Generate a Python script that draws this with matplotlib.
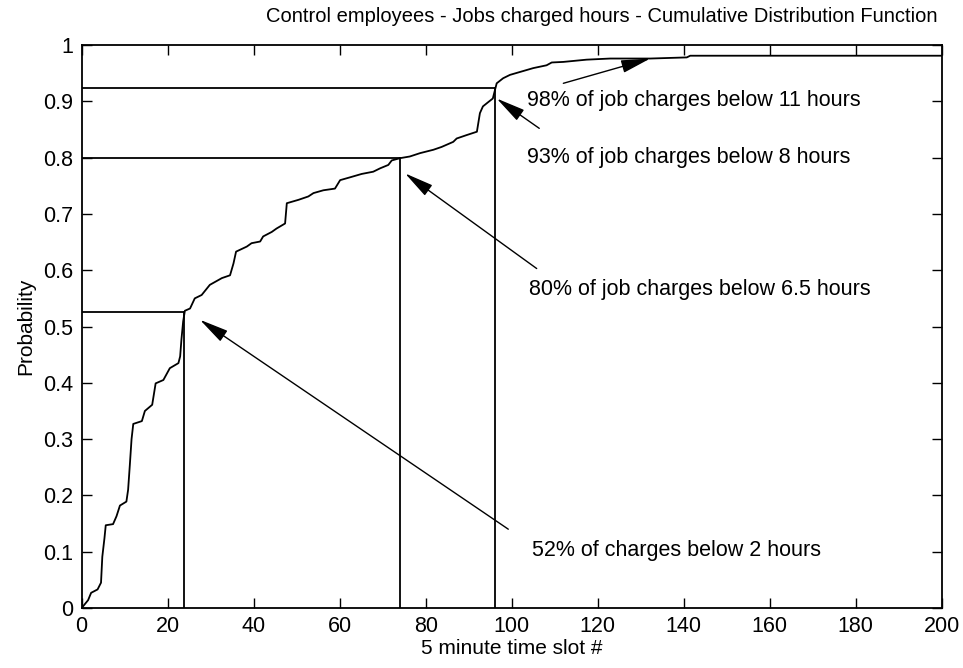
import matplotlib
matplotlib.use("Agg")
import matplotlib.pyplot as plt
from matplotlib.ticker import FormatStrFormatter

plt.rcParams['font.family'] = ['Liberation Sans', 'DejaVu Sans']
plt.rcParams['font.size'] = 15

# CDF curve (5 minute slot #, probability)
slot = [0, 1.5, 2.2, 3.7, 4.5, 4.8, 5.3, 5.6, 7.3, 8.1, 8.9, 10.4, 10.8, 11.2,
        11.6, 12, 14, 14.7, 16.4, 17.2, 19, 20.5, 22.5, 22.9, 23.2, 23.6, 24,
        25.2, 26.3, 27.9, 29.8, 32.6, 34.5, 35.3, 35.9, 38.4, 39.5, 41.5, 42.2,
        44.2, 45.3, 47.3, 47.7, 50.4, 52.7, 53.9, 56.2, 58.9, 60.1, 62.4, 65.1,
        67.8, 69.4, 71.3, 72.1, 74, 76.3, 78.7, 81.8, 83.7, 86.4, 87.2, 89.5,
        91.9, 92.6, 93.3, 94.6, 95.6, 96, 96.5, 98, 99.6, 102.3, 105, 108.1,
        109.3, 112, 117.4, 122.9, 132.2, 140.7, 141.5, 200]
prob = [0, 0.014, 0.027, 0.033, 0.045, 0.091, 0.124, 0.147, 0.149, 0.163,
        0.182, 0.189, 0.21, 0.254, 0.3, 0.327, 0.332, 0.35, 0.361, 0.399, 0.405,
        0.426, 0.435, 0.447, 0.477, 0.509, 0.528, 0.532, 0.55, 0.556, 0.574,
        0.586, 0.591, 0.612, 0.633, 0.642, 0.648, 0.651, 0.66, 0.668, 0.674,
        0.683, 0.719, 0.725, 0.731, 0.737, 0.742, 0.745, 0.76, 0.765, 0.771,
        0.775, 0.781, 0.787, 0.795, 0.799, 0.802, 0.808, 0.814, 0.819, 0.828,
        0.834, 0.84, 0.846, 0.879, 0.891, 0.899, 0.905, 0.917, 0.932, 0.941,
        0.947, 0.953, 0.959, 0.964, 0.969, 0.97, 0.974, 0.976, 0.976, 0.978,
        0.981, 0.981]

# marker lines (slot, probability)
mark_slot = [23.8, 74, 96]
mark_prob = [0.525, 0.8, 0.923]

# annotations
note_text = ["98% of job charges below 11 hours",
             "93% of job charges below 8 hours",
             "80% of job charges below 6.5 hours",
             "52% of charges below 2 hours"]
note_x = [103.5, 103.5, 103.9, 104.7]
note_y = [0.902, 0.801, 0.565, 0.103]
arrow_from = [(112, 0.932), (106.4, 0.852), (105.8, 0.603), (99.2, 0.14)]
arrow_to = [(132.2, 0.976), (96.5, 0.905), (75.2, 0.772), (27.5, 0.512)]

fig = plt.figure(figsize=(9.63, 6.68), dpi=100)
ax = fig.add_axes([0.0848, 0.0898, 0.978 - 0.0848, 0.9326 - 0.0898])

ax.plot(slot, prob, color='k', lw=1.3)
for xs, ps in zip(mark_slot, mark_prob):
    ax.plot([0, xs], [ps, ps], color='k', lw=1.3)
    ax.plot([xs, xs], [0, ps], color='k', lw=1.3)

for t, tx, ty in zip(note_text, note_x, note_y):
    ax.text(tx, ty, t, ha='left', va='center', fontsize=15.5)
for a, b in zip(arrow_from, arrow_to):
    ax.annotate('', xy=b, xytext=a,
                arrowprops=dict(arrowstyle='-|>,head_length=1.0,head_width=0.22',
                                color='k', lw=1.0, shrinkA=0, shrinkB=0,
                                mutation_scale=18))

ax.set_xlim(0, 200)
ax.set_ylim(0, 1)
ax.set_xticks(range(0, 201, 20))
ax.set_yticks([i / 10 for i in range(11)])
ax.yaxis.set_major_formatter(FormatStrFormatter('%g'))
ax.tick_params(direction='in', top=True, right=True, length=7, width=1,
               labelsize=15.5, pad=6)
for s in ax.spines.values():
    s.set_linewidth(1.3)

ax.set_xlabel('5 minute time slot #', fontsize=15, labelpad=1)
ax.set_ylabel('Probability', fontsize=15, labelpad=6)
fig.text(0.625, 0.975, 'Control employees - Jobs charged hours - Cumulative Distribution Function',
         ha='center', va='center', fontsize=14.5)

fig.savefig('out.png', dpi=100)
